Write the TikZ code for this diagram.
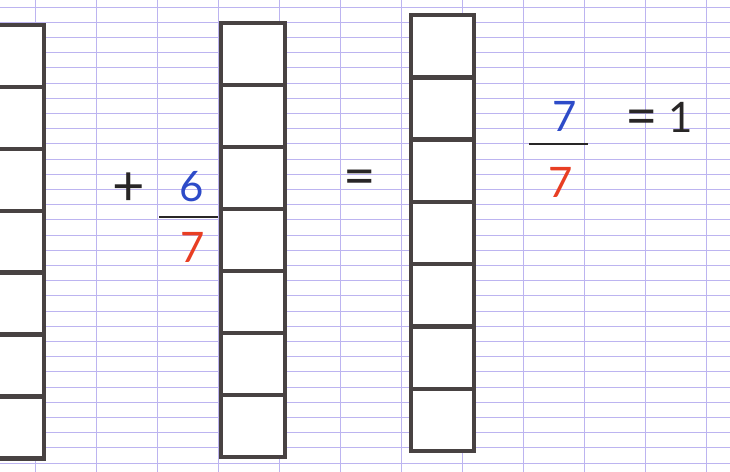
\documentclass[tikz,border=0pt]{standalone}
\usepackage{fontspec}
\setmainfont{Lato}
\usepackage{tikz}
\definecolor{gridlav}{RGB}{188,180,240}
\definecolor{cellgrey}{RGB}{72,66,66}
\definecolor{inkblue}{RGB}{45,75,200}
\definecolor{inkred}{RGB}{232,62,35}
\definecolor{inkblack}{RGB}{40,38,38}
\tikzset{
  ruling/.style ={draw=gridlav, line width=0.4pt},
  cellfill/.style={fill=white},
  cell/.style   ={draw=cellgrey, line width=2.2pt},
  digit/.style  ={font=\fontsize{21}{21}\selectfont, inner sep=0pt},
  opsign/.style ={font=\fontsize{28}{28}\selectfont, inner sep=0pt, text=inkblack},
  bar/.style    ={draw=inkblack, line width=1.2pt},
}
\begin{document}
\begin{tikzpicture}[x=0.5pt,y=-0.5pt]
\fill[white] (0,0) rectangle (730,472);
\useasboundingbox (0,0) rectangle (730,472);
% ruled paper
\foreach \k in {0,...,30} \draw[ruling] (0,7+15.2*\k) -- (730,7+15.2*\k);
\foreach \k in {0,...,11} \draw[ruling] (35+61*\k,0) -- (35+61*\k,472);
% three strips of seven cells (left, top, right, height)
\foreach \l/\t/\r/\h in {-25/25/44/61.9, 221/23/285/62, 411/15/474/62.3} {
  \fill[cellfill] (\l,\t) rectangle (\r,\t+7*\h);
  \foreach \i in {0,...,6}
    \draw[cell] (\l,\t+\h*\i) rectangle (\r,\t+\h*\i+\h);
}
% first sum
\node[opsign] (plus) at (129,189) {+};
\node[digit,text=inkblue]  (numsix) at (192,187) {6};
\node[digit,text=inkred]   (densix) at (193,247) {7};
\draw[bar] (159,217) -- (218,217);
\node[opsign] (eqmid) at (360,183) {=};
% result
\node[digit,text=inkblue]  (numseven) at (565,116) {7};
\node[digit,text=inkred]   (denseven) at (561,182) {7};
\draw[bar] (529,144) -- (588,144);
\node[opsign] (eqend) at (642,123) {=};
\node[digit,text=inkblack] (one) at (681,117) {1};
\end{tikzpicture}
\end{document}
